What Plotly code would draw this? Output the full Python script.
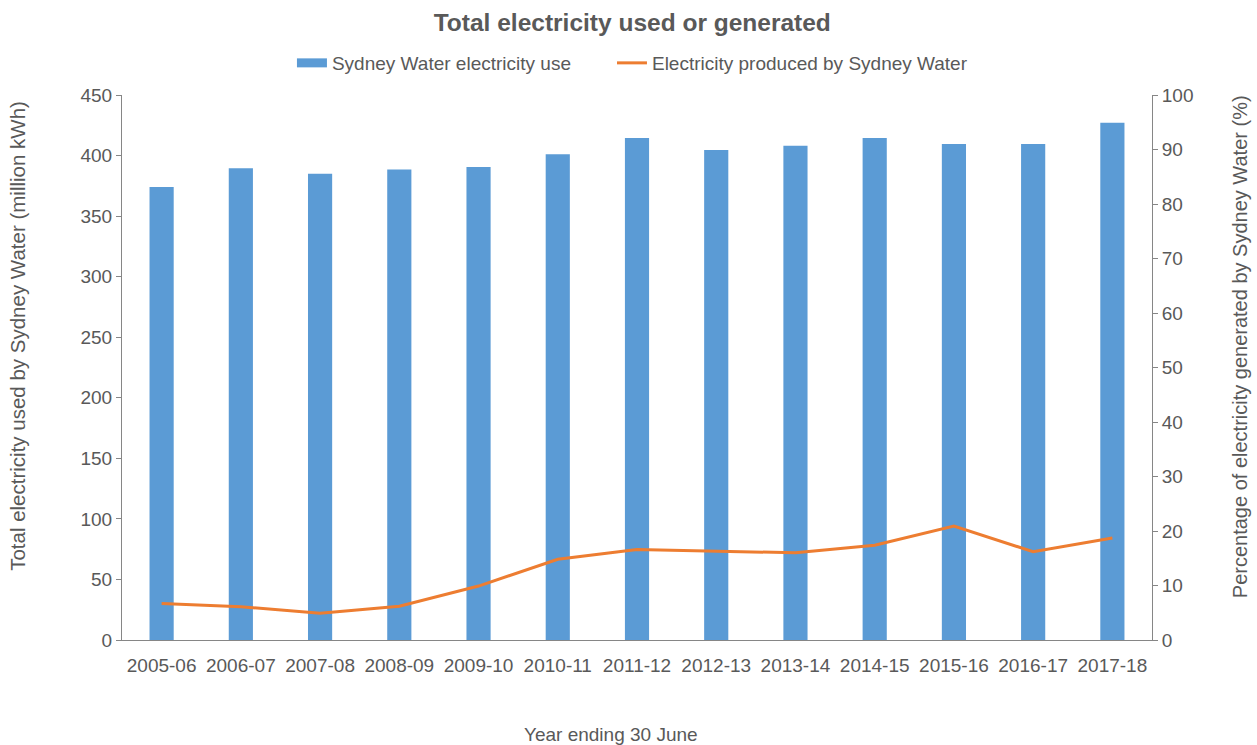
import plotly.graph_objects as go

years = ["2005-06", "2006-07", "2007-08", "2008-09", "2009-10", "2010-11", "2011-12",
         "2012-13", "2013-14", "2014-15", "2015-16", "2016-17", "2017-18"]
electricity_use = [374, 389.5, 385, 388.5, 390.5, 401, 414.5, 404.5, 408, 414.5, 409.5, 409.5, 427]
produced_pct = [6.7, 6.1, 4.9, 6.2, 9.9, 14.8, 16.6, 16.3, 16.0, 17.4, 20.9, 16.2, 18.7]

font_family = "Liberation Sans, Arial, sans-serif"
grey = "#595959"
axis_grey = "#868686"
blue = "#5B9BD5"
orange = "#ED7D31"

fig = go.Figure()
fig.add_trace(go.Bar(x=years, y=electricity_use, name="Sydney Water electricity use",
                     marker=dict(color=blue, line=dict(width=0)), yaxis="y",
                     showlegend=False))
# legend entry drawn as a wide block, like the original
fig.add_trace(go.Scatter(x=[None], y=[None], name="Sydney Water electricity use",
                         mode="lines", line=dict(color=blue, width=9), yaxis="y",
                         legend="legend"))
fig.add_trace(go.Scatter(x=years, y=produced_pct, name="Electricity produced by Sydney Water",
                         mode="lines", line=dict(color=orange, width=3), yaxis="y2",
                         legend="legend2"))

legend_common = dict(orientation="h", y=1.0587, yanchor="middle",
                     font=dict(size=19, color=grey), itemwidth=30,
                     bgcolor="rgba(0,0,0,0)")

fig.update_layout(
    width=1257, height=745,
    margin=dict(l=122, r=105, t=95, b=105),
    paper_bgcolor="white", plot_bgcolor="white",
    font=dict(family=font_family, size=19, color=grey),
    title=dict(text="<b>Total electricity used or generated</b>", x=0.503, xanchor="center",
               y=0.9705, yanchor="middle", font=dict(size=24.5, color=grey)),
    bargap=0.695,
    showlegend=True,
    legend=dict(x=0.165, xanchor="left", **legend_common),
    legend2=dict(x=0.4757, xanchor="left", **legend_common),
    xaxis=dict(type="category", showline=True, linecolor=axis_grey, linewidth=1,
               ticks="outside", ticklen=8, tickcolor="rgba(0,0,0,0)", showgrid=False,
               tickfont=dict(size=19, color=grey), zeroline=False),
    yaxis=dict(range=[0, 450], dtick=50, showline=True, linecolor=axis_grey, linewidth=1,
               ticks="outside", ticklen=5, tickcolor=axis_grey, showgrid=False, zeroline=False,
               tickfont=dict(size=19, color=grey)),
    yaxis2=dict(range=[0, 100], dtick=10, overlaying="y", side="right", showline=True,
                linecolor=axis_grey, linewidth=1, ticks="outside", ticklen=5, tickcolor=axis_grey,
                showgrid=False, zeroline=False, tickfont=dict(size=19, color=grey)),
    annotations=[
        dict(text="Year ending 30 June", xref="paper", yref="paper", x=0.475, y=-0.174,
             xanchor="center", yanchor="middle", showarrow=False,
             font=dict(size=19, color=grey)),
        dict(text="Total electricity used by Sydney Water (million kWh)", xref="paper",
             yref="paper", x=-0.101, y=0.558, xanchor="center", yanchor="middle",
             textangle=-90, showarrow=False, font=dict(size=20.5, color=grey)),
        dict(text="Percentage of electricity generated by Sydney Water (%)", xref="paper",
             yref="paper", x=1.0854, y=0.539, xanchor="center", yanchor="middle",
             textangle=-90, showarrow=False, font=dict(size=20, color=grey)),
    ],
)

fig.write_html("out.html")
